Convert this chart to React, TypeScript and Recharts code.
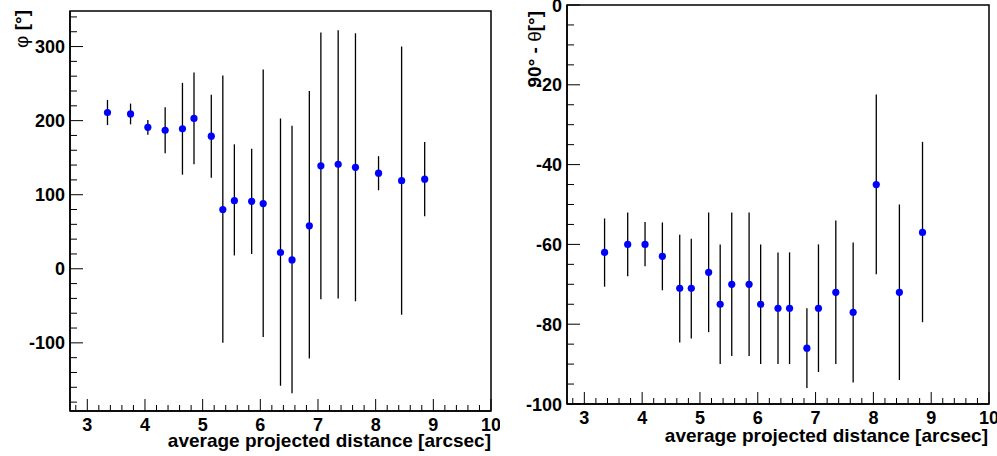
import React from 'react';
import { ScatterChart, Scatter, XAxis, YAxis, ErrorBar, ReferenceArea } from 'recharts';

// bin centres, shared by both panels
const distance = [3.35, 3.75, 4.05, 4.35, 4.65, 4.85, 5.15, 5.35, 5.55, 5.85, 6.05, 6.35, 6.55, 6.85, 7.05, 7.35, 7.65, 8.05, 8.45, 8.85];

// left panel: phi [deg]
const phi = [211, 209, 191, 187, 189, 203, 179, 80, 92, 91, 88, 22, 12, 58, 139, 141, 137, 129, 119, 121];
const phiLow = [194, 195, 181, 156, 127, 141, 123, -100, 18, 20, -92, -158, -168, -121, -41, -40, -44, 106, -62, 71];
const phiHigh = [228, 223, 201, 218, 251, 265, 235, 261, 168, 162, 269, 203, 193, 240, 319, 322, 318, 152, 300, 171];

// right panel: 90 - theta [deg]
const theta = [-62, -60, -60, -63, -71, -71, -67, -75, -70, -70, -75, -76, -76, -86, -76, -72, -77, -45, -72, -57];
const thetaLow = [-70.6, -68, -65.5, -71.5, -84.6, -83.6, -82, -90, -88, -88, -90, -90, -90, -96, -92, -90, -94.6, -67.5, -94, -79.5];
const thetaHigh = [-53.5, -52, -54.4, -54.5, -57.6, -58.6, -52, -60, -52, -52, -60, -62, -62, -76, -60, -54, -59.5, -22.4, -50, -34.3];

const xTicks = [2.8, 3, 3.2, 3.4, 3.6, 3.8, 4, 4.2, 4.4, 4.6, 4.8, 5, 5.2, 5.4, 5.6, 5.8, 6, 6.2, 6.4, 6.6, 6.8, 7, 7.2, 7.4, 7.6, 7.8, 8, 8.2, 8.4, 8.6, 8.8, 9, 9.2, 9.4, 9.6, 9.8, 10];
const phiTicks = [-180, -160, -140, -120, -100, -80, -60, -40, -20, 0, 20, 40, 60, 80, 100, 120, 140, 160, 180, 200, 220, 240, 260, 280, 300, 320, 340];
const thetaTicks = [-100, -95, -90, -85, -80, -75, -70, -65, -60, -55, -50, -45, -40, -35, -30, -25, -20, -15, -10, -5, 0];

const FAMILY = '"Liberation Sans", Arial, sans-serif';
const TICK: React.CSSProperties = { fontFamily: FAMILY, fontWeight: 700, fontSize: 18 };
const BOLD: React.CSSProperties = { fontFamily: FAMILY, fontWeight: 700, fontSize: 19 };
const PLAIN: React.CSSProperties = { fontFamily: FAMILY, fontWeight: 400, fontSize: 19 };

const phiData = distance.map((x, i) => ({ x, y: phi[i], err: [phi[i] - phiLow[i], phiHigh[i] - phi[i]] }));
const thetaData = distance.map((x, i) => ({ x, y: theta[i], err: [theta[i] - thetaLow[i], thetaHigh[i] - theta[i]] }));

const dot = (p: any) => <circle cx={p.cx} cy={p.cy} r={3.6} fill="#0000ff" />;

function xTick(props: any) {
  const { x, y, payload } = props;
  const v = payload.value;
  const major = Math.abs(v - Math.round(v)) < 1e-6;
  return (
    <g>
      <line x1={x} x2={x} y1={y} y2={y - (major ? 12 : 6)} stroke="#000" />
      {major && (
        <text x={x} y={y + 20} textAnchor="middle" style={TICK} fill="#000">
          {v}
        </text>
      )}
    </g>
  );
}

function makeYTick(step: number) {
  return (props: any) => {
    const { x, y, payload } = props;
    const v = payload.value;
    const major = v % step === 0;
    return (
      <g>
        <line x1={x} x2={x + (major ? 13 : 7)} y1={y} y2={y} stroke="#000" />
        {major && (
          <text x={x - 5} y={y + 6.5} textAnchor="end" style={TICK} fill="#000">
            {v}
          </text>
        )}
      </g>
    );
  };
}

function Panel({ data, yDomain, yTicks, step, margin, yWidth, xHeight }: any) {
  return (
    <ScatterChart width={margin.w} height={456} margin={{ top: margin.top, right: margin.right, bottom: 0, left: 0 }}>
      <XAxis
        type="number"
        dataKey="x"
        domain={[2.7, 10]}
        ticks={xTicks}
        interval={0}
        tickSize={0}
        tickMargin={0}
        height={xHeight}
        axisLine={{ stroke: '#000', strokeWidth: 1.5 }}
        tick={xTick}
        allowDataOverflow
      />
      <YAxis
        type="number"
        dataKey="y"
        domain={yDomain}
        ticks={yTicks}
        interval={0}
        tickSize={0}
        tickMargin={0}
        width={yWidth}
        axisLine={{ stroke: '#000', strokeWidth: 1.5 }}
        tick={makeYTick(step)}
        allowDataOverflow
      />
      <ReferenceArea x1={2.7} x2={10} y1={yDomain[0]} y2={yDomain[1]} fill="none" stroke="#000" strokeWidth={1.5} />
      <Scatter data={data} shape={dot} isAnimationActive={false}>
        <ErrorBar dataKey="err" direction="y" width={0} stroke="#000" strokeWidth={1.3} />
      </Scatter>
    </ScatterChart>
  );
}

export default function App() {
  return (
    <div style={{ position: 'absolute', left: 0, top: 0, width: 997, height: 456, background: '#fff' }}>
      <div style={{ position: 'absolute', left: 0, top: 0 }}>
        <Panel
          data={phiData}
          yDomain={[-192, 348]}
          yTicks={phiTicks}
          step={100}
          margin={{ w: 500, top: 11, right: 9 }}
          yWidth={70}
          xHeight={45}
        />
      </div>
      <div style={{ position: 'absolute', left: 500, top: 0 }}>
        <Panel
          data={thetaData}
          yDomain={[-100, 0]}
          yTicks={thetaTicks}
          step={20}
          margin={{ w: 497, top: 5, right: 8 }}
          yWidth={67}
          xHeight={52}
        />
      </div>
      <svg width={997} height={456} style={{ position: 'absolute', left: 0, top: 0, pointerEvents: 'none' }}>
        <text transform="translate(28,10) rotate(-90)" textAnchor="end" style={PLAIN} fill="#000">
          <tspan>φ </tspan>
          <tspan style={BOLD}>[°]</tspan>
        </text>
        <text transform="translate(541,11) rotate(-90)" textAnchor="end" style={BOLD} fill="#000">
          <tspan>90° - </tspan>
          <tspan style={PLAIN}>θ</tspan>
          <tspan>[°]</tspan>
        </text>
        <text x={491} y={447} textAnchor="end" style={BOLD} fill="#000">
          average projected distance [arcsec]
        </text>
        <text x={988} y={442} textAnchor="end" style={BOLD} fill="#000">
          average projected distance [arcsec]
        </text>
      </svg>
    </div>
  );
}
